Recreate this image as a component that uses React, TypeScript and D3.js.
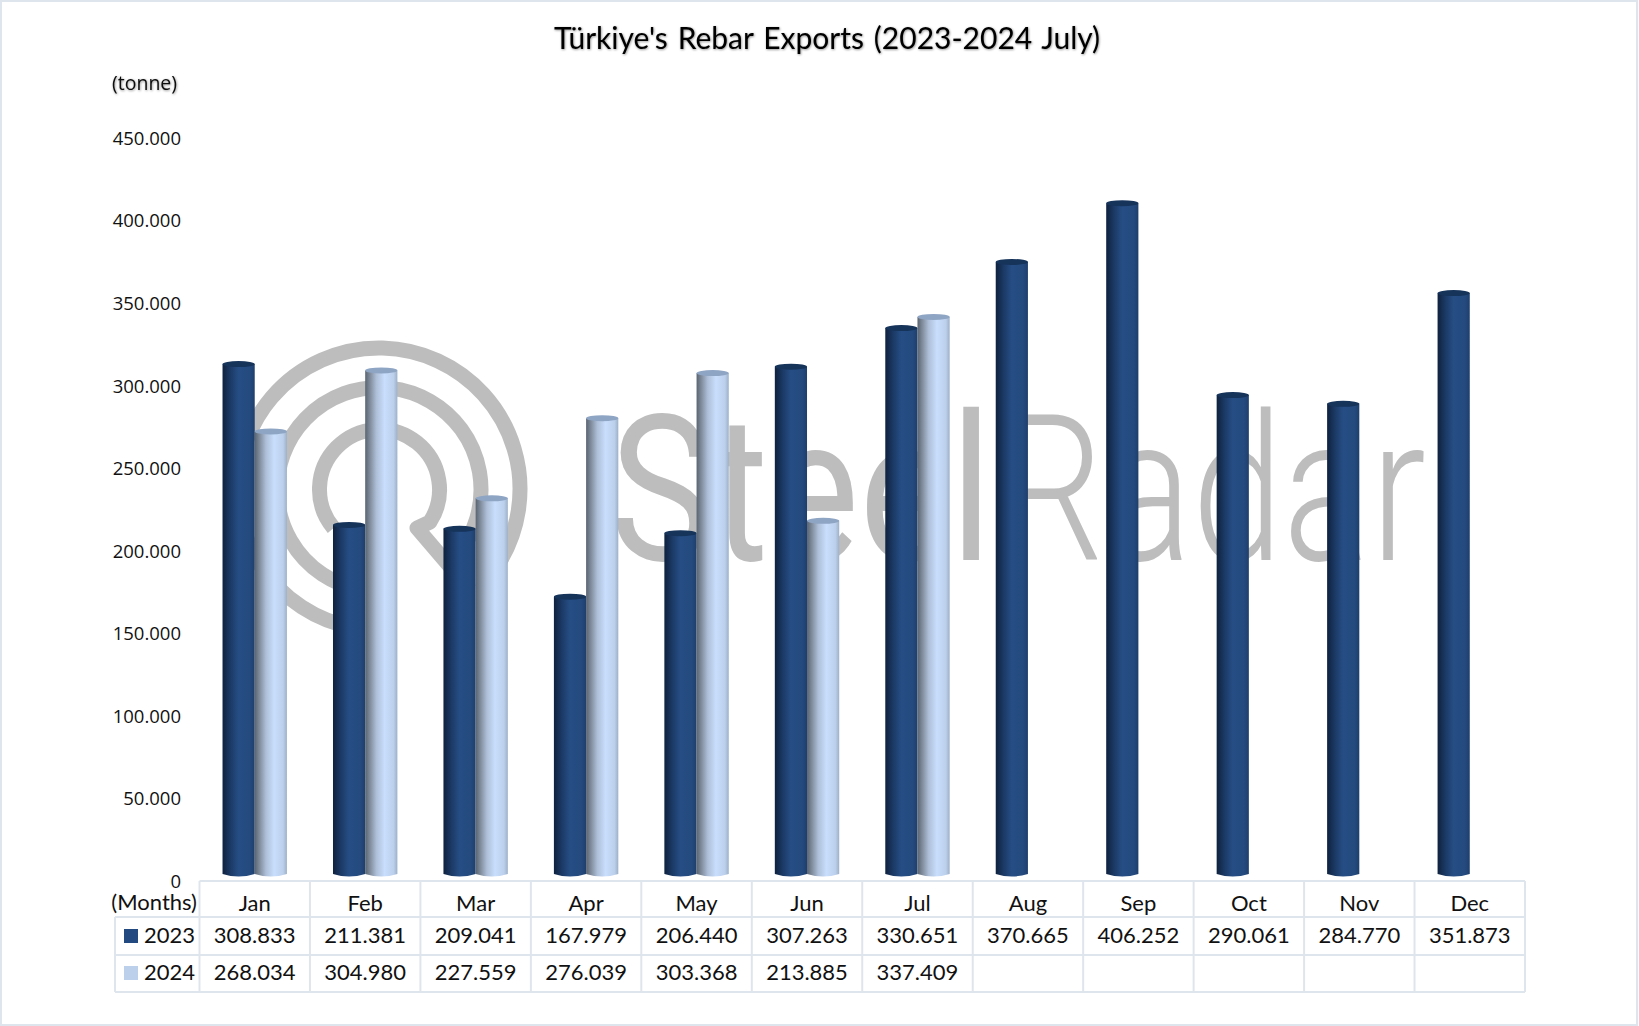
import * as d3 from "d3";
import React, { useEffect, useRef } from "react";

const MONTHS = ["Jan", "Feb", "Mar", "Apr", "May", "Jun", "Jul", "Aug", "Sep", "Oct", "Nov", "Dec"];
const SERIES = ["2023", "2024"];
const VALUES_2023 = [308833, 211381, 209041, 167979, 206440, 307263, 330651, 370665, 406252, 290061, 284770, 351873];
const VALUES_2024: (number | null)[] = [268034, 304980, 227559, 276039, 303368, 213885, 337409, null, null, null, null, null];
const Y_TICKS = [0, 50000, 100000, 150000, 200000, 250000, 300000, 350000, 400000, 450000];

const WIDTH = 1639;
const HEIGHT = 1026;
const GRID = "#dfe5ec";
const LABEL_FONT = "Lato, sans-serif";
const AXIS_FONT = "'Open Sans', sans-serif";

const fmt = d3.formatLocale({ decimal: ",", thousands: ".", grouping: [3], currency: ["", ""] }).format(",d");

export default function App() {
  const svgRef = useRef<SVGSVGElement | null>(null);

  useEffect(() => {
    const svg = d3.select(svgRef.current);
    svg.selectAll("*").remove();

    const x = d3.scaleBand<string>().domain(MONTHS).range([199.5, 1525]);
    const xs = d3.scaleBand<string>().domain(SERIES).range([-32.2, 32.2]);
    const y = d3.scaleLinear().domain([0, 450000]).range([874, 131]);

    const defs = svg.append("defs");
    const grad = (id: string, stops: [number, string][]) => {
      const g = defs.append("linearGradient").attr("id", id).attr("x1", 0).attr("x2", 1).attr("y1", 0).attr("y2", 0);
      stops.forEach(([o, c]) => g.append("stop").attr("offset", o).attr("stop-color", c));
    };
    grad("bar2023", [[0, "#0e2240"], [0.08, "#13294a"], [0.25, "#1b3a66"], [0.5, "#264e85"], [0.85, "#244a7e"], [1, "#1e3f6d"]]);
    grad("bar2024", [[0, "#5a6472"], [0.15, "#808c9c"], [0.35, "#aebfd8"], [0.6, "#c8defc"], [0.88, "#bcd0ec"], [1, "#9db0c8"]]);
    const shadow = defs.append("filter").attr("id", "soft").attr("x", "-5%").attr("y", "-20%").attr("width", "110%").attr("height", "150%");
    shadow.append("feDropShadow").attr("dx", 0.6).attr("dy", 0.8).attr("stdDeviation", 0.8)
      .attr("flood-color", "#000").attr("flood-opacity", 0.45);

    // chart frame
    svg.append("rect").attr("x", 1).attr("y", 1).attr("width", WIDTH - 3).attr("height", HEIGHT - 2)
      .attr("fill", "#fff").attr("stroke", GRID).attr("stroke-width", 2);

    // watermark logo
    const mark = svg.append("g").attr("fill", "none").attr("stroke", "#bdbdbd");
    const deg = Math.PI / 180;
    const rings: [number, number, number, number][] = [[141, 489, 190, 482], [102, 489.5, 190, 490]];
    rings.forEach(([r, cy, a0, a1]) => {
      const p = d3.path();
      p.arc(379, cy, r, (a0 - 90) * deg, (a1 - 90) * deg);
      mark.append("path").attr("stroke-width", 15).attr("d", p.toString());
    });
    const tail = d3.path();
    tail.arc(379.5, 489.5, 60, (230 - 90) * deg, (360 + 123 - 90) * deg);
    tail.lineTo(417, 528);
    tail.lineTo(470, 590);
    mark.append("path").attr("stroke-width", 15).attr("stroke-linejoin", "round").attr("d", tail.toString());

    // squeeze the wordmark to the reference width
    const word = (t: string, left: number, w: number, weight: number) => {
      const el = svg.append("text").attr("font-family", "Roboto, sans-serif").attr("font-size", 204)
        .attr("font-weight", weight).attr("fill", "#bdbdbd").text(t);
      const k = w / ((el.node() as SVGTextElement).getComputedTextLength() || w);
      el.attr("transform", `translate(${left},560) scale(${k},1)`);
    };
    word("Steel", 610, 382, 400);
    word("Radar", 1000, 426, 300);

    // title + unit
    svg.append("text").attr("x", 827).attr("y", 49).attr("text-anchor", "middle").attr("font-family", LABEL_FONT)
      .attr("font-size", 30).attr("word-spacing", 2.2).attr("fill", "#000").attr("filter", "url(#soft)")
      .text("Türkiye's Rebar Exports (2023-2024 July)");
    svg.append("text").attr("x", 112).attr("y", 89.5).attr("font-family", AXIS_FONT).attr("font-size", 19.5)
      .attr("font-weight", 500).attr("fill", "#111").attr("filter", "url(#soft)").text("(tonne)");

    // y axis, labels only
    const axis = svg.append("g").attr("transform", "translate(181,7.5)")
      .call(d3.axisLeft(y).tickValues(Y_TICKS).tickSize(0).tickPadding(0).tickFormat(d => fmt(d as number)));
    axis.select(".domain").remove();
    axis.selectAll("text").attr("font-family", AXIS_FONT).attr("font-size", 18.5).attr("fill", "#111");

    // cylinders
    const barW = xs.bandwidth();
    const rows = SERIES.map((s, i) => ({ s, values: i === 0 ? VALUES_2023 : VALUES_2024, cap: i === 0 ? "#16335a" : "#8fa5c4", fill: i === 0 ? "#234a80" : "#bcd0ec" }));
    rows.forEach(row => {
      const g = svg.append("g");
      MONTHS.forEach((m, i) => {
        const v = row.values[i];
        if (v == null) return;
        const left = (x(m) ?? 0) + x.bandwidth() / 2 + (xs(row.s) ?? 0);
        const top = y(v);
        const p = d3.path();
        p.moveTo(left, top);
        p.lineTo(left, y(0));
        p.quadraticCurveTo(left + barW / 2, y(0) + 5, left + barW, y(0));
        p.lineTo(left + barW, top);
        p.closePath();
        g.append("path").attr("d", p.toString()).attr("fill", `url(#bar${row.s})`);
        g.append("ellipse").attr("cx", left + barW / 2).attr("cy", top).attr("rx", barW / 2).attr("ry", 3)
          .attr("fill", row.cap);
      });
    });

    // data table
    const rowY = [881, 917, 955, 992];
    const table = svg.append("g").attr("stroke", GRID).attr("stroke-width", 2);
    rowY.forEach((ry, i) => {
      table.append("line").attr("x1", i === 0 ? 199.5 : 115).attr("x2", 1525).attr("y1", ry).attr("y2", ry);
    });
    table.append("line").attr("x1", 115).attr("x2", 115).attr("y1", 917).attr("y2", 992);
    d3.range(13).forEach(i => {
      const px = 199.5 + i * x.step();
      table.append("line").attr("x1", px).attr("x2", px).attr("y1", 881).attr("y2", 992);
    });

    const cell = (tx: number, ty: number, t: string, anchor = "middle") =>
      svg.append("text").attr("x", tx).attr("y", ty).attr("text-anchor", anchor).attr("font-family", LABEL_FONT)
        .attr("font-size", 22).attr("fill", "#111").text(t);

    cell(197, 910, "(Months)", "end");
    MONTHS.forEach(m => cell((x(m) ?? 0) + x.bandwidth() / 2, 911, m));
    rows.forEach((row, i) => {
      const base = i === 0 ? 943 : 980;
      svg.append("rect").attr("x", 124).attr("y", (i === 0 ? 929 : 966)).attr("width", 14).attr("height", 14).attr("fill", row.fill);
      cell(144, base, row.s, "start");
      MONTHS.forEach((m, j) => {
        const v = row.values[j];
        if (v != null) cell((x(m) ?? 0) + x.bandwidth() / 2, base, fmt(v));
      });
    });
  }, []);

  return (
    <svg ref={svgRef} width={WIDTH} height={HEIGHT} style={{ position: "absolute", left: 0, top: 0 }} />
  );
}
